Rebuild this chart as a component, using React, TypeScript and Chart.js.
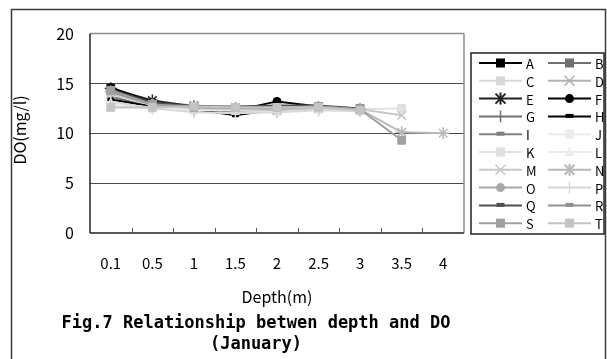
import React, { useEffect, useRef } from 'react';
import { Chart, registerables } from 'chart.js';

Chart.register(...registerables);

const depthLabels = ['0.1', '0.5', '1', '1.5', '2', '2.5', '3', '3.5', '4'];
const yTicks = [0, 5, 10, 15, 20];
const seriesNames = ['A', 'B', 'C', 'D', 'E', 'F', 'G', 'H', 'I', 'J', 'K', 'L', 'M', 'N', 'O', 'P', 'Q', 'R', 'S', 'T'];

const seriesA = [14.3, 12.9, 12.5, 12.4, 12.6, 12.6, 12.4];
const seriesB = [14.2, 13.0, 12.7, 12.6, 12.7, 12.7, 12.5];
const seriesC = [14.0, 12.8, 12.5, 12.5, 12.4, 12.5, 12.3];
const seriesD = [14.4, 13.2, 12.8, 12.6, 12.5, 12.6, 12.4];
const seriesE = [14.5, 13.3, 12.7, 12.5, 12.4, 12.6, 12.4];
const seriesF = [14.6, 13.1, 12.6, 12.3, 13.2, 12.7, 12.4];
const seriesG = [13.7, 12.6, 12.3, 12.2, 12.2, 12.5, 12.3];
const seriesH = [13.4, 12.7, 12.4, 11.8, 12.4, 12.6, 12.5];
const seriesI = [14.1, 12.9, 12.6, 12.4, 12.3, 12.5, 12.4];
const seriesJ = [12.8, 12.5, 12.3, 12.3, 12.2, 12.4, 12.3];
const seriesK = [12.7, 12.6, 12.4, 12.3, 12.3, 12.5, 12.4, 12.5];
const seriesL = [13.0, 12.6, 12.4, 12.3, 12.2, 12.4, 12.3];
const seriesM = [14.0, 12.8, 12.5, 12.4, 12.3, 12.5, 12.4, 11.8];
const seriesN = [14.2, 12.9, 12.6, 12.5, 12.4, 12.6, 12.4, 10.1, 10.0];
const seriesO = [14.3, 13.0, 12.7, 12.6, 12.5, 12.7, 12.5];
const seriesP = [13.2, 12.5, 12.1, 12.0, 12.1, 12.3, 12.2];
const seriesQ = [14.4, 13.1, 12.7, 12.7, 12.8, 12.8, 12.5];
const seriesR = [14.2, 12.9, 12.7, 12.6, 12.6, 12.7, 12.4];
const seriesS = [14.3, 12.9, 12.6, 12.6, 12.6, 12.7, 12.4, 9.3];
const seriesT = [12.6, 12.6, 12.7, 12.6, 12.6, 12.6, 12.3];

const seriesValues = [
  seriesA, seriesB, seriesC, seriesD, seriesE, seriesF, seriesG, seriesH, seriesI, seriesJ,
  seriesK, seriesL, seriesM, seriesN, seriesO, seriesP, seriesQ, seriesR, seriesS, seriesT,
];

const seriesColors = [
  '#000000', '#707070', '#d8d8d8', '#b0b0b0', '#202020', '#000000', '#707070', '#000000', '#808080', '#ececec',
  '#e0e0e0', '#ececec', '#c8c8c8', '#b8b8b8', '#a8a8a8', '#d8d8d8', '#505050', '#909090', '#a0a0a0', '#c4c4c4',
];
const seriesMarkers = [
  'rect', 'rect', 'rect', 'crossRot', 'star', 'circle', 'vline', 'dash', 'dash', 'rect',
  'rect', 'triangle', 'crossRot', 'star', 'circle', 'vline', 'dash', 'dash', 'rect', 'rect',
];

const AXIS_FONT = '"Noto Sans CJK JP", "Noto Sans", sans-serif';
const TITLE_FONT = '"DejaVu Sans Mono", monospace';

function markerProps(m: string, color: string) {
  switch (m) {
    case 'rect': return { pointStyle: 'rect', pointRadius: 5.5, pointBorderWidth: 1, pointBackgroundColor: color, pointBorderColor: color };
    case 'circle': return { pointStyle: 'circle', pointRadius: 4, pointBorderWidth: 1, pointBackgroundColor: color, pointBorderColor: color };
    case 'crossRot': return { pointStyle: 'crossRot', pointRadius: 6, pointBorderWidth: 1.5, pointBackgroundColor: color, pointBorderColor: color };
    case 'star': return { pointStyle: 'star', pointRadius: 6, pointBorderWidth: 1.5, pointBackgroundColor: color, pointBorderColor: color };
    case 'triangle': return { pointStyle: 'triangle', pointRadius: 5, pointBorderWidth: 1, pointBackgroundColor: color, pointBorderColor: color };
    case 'vline': return { pointStyle: 'line', pointRotation: 90, pointRadius: 6, pointBorderWidth: 1.5, pointBackgroundColor: color, pointBorderColor: color };
    default: return { pointStyle: 'line', pointRadius: 3.5, pointBorderWidth: 4, pointBackgroundColor: color, pointBorderColor: color };
  }
}

function drawMarker(ctx: CanvasRenderingContext2D, m: string, x: number, y: number, color: string) {
  ctx.save();
  ctx.fillStyle = color;
  ctx.strokeStyle = color;
  const line = (x1: number, y1: number, x2: number, y2: number) => {
    ctx.beginPath(); ctx.moveTo(x1, y1); ctx.lineTo(x2, y2); ctx.stroke();
  };
  if (m === 'rect') {
    ctx.fillRect(x - 4.5, y - 4.5, 9, 9);
  } else if (m === 'circle') {
    ctx.beginPath(); ctx.arc(x, y, 4.5, 0, Math.PI * 2); ctx.fill();
  } else if (m === 'crossRot') {
    ctx.lineWidth = 1.5;
    line(x - 5, y - 5, x + 5, y + 5); line(x - 5, y + 5, x + 5, y - 5);
  } else if (m === 'star') {
    ctx.lineWidth = 2;
    line(x - 5, y - 5, x + 5, y + 5); line(x - 5, y + 5, x + 5, y - 5); line(x, y - 6, x, y + 6);
  } else if (m === 'triangle') {
    ctx.beginPath(); ctx.moveTo(x, y - 5); ctx.lineTo(x + 5, y + 4); ctx.lineTo(x - 5, y + 4); ctx.closePath(); ctx.fill();
  } else if (m === 'vline') {
    ctx.lineWidth = 1.5;
    line(x, y - 6, x, y + 6);
  } else {
    ctx.lineWidth = 4;
    line(x - 4, y - 0.5, x + 4, y - 0.5);
  }
  ctx.restore();
}

const decorPlugin = {
  id: 'decor',
  afterDraw(chart: any) {
    const ctx: CanvasRenderingContext2D = chart.ctx;
    const ca = chart.chartArea;
    const xs = chart.scales.x;
    const line = (x1: number, y1: number, x2: number, y2: number) => {
      ctx.beginPath(); ctx.moveTo(x1, y1); ctx.lineTo(x2, y2); ctx.stroke();
    };
    ctx.save();
    // plot borders
    ctx.lineWidth = 1.5;
    ctx.strokeStyle = '#8c8c8c';
    line(ca.left, ca.top, ca.right, ca.top);
    line(ca.right, ca.top, ca.right, ca.bottom);
    ctx.strokeStyle = '#222';
    line(ca.left, ca.top, ca.left, ca.bottom);
    line(ca.left, ca.bottom, ca.right, ca.bottom);
    // inner tick marks between categories
    ctx.lineWidth = 1;
    ctx.strokeStyle = '#555';
    for (let i = 1; i < depthLabels.length; i++) {
      const x = Math.round((xs.getPixelForTick(i - 1) + xs.getPixelForTick(i)) / 2) + 0.5;
      line(x, ca.bottom, x, ca.bottom - 5);
    }
    // outer frame
    ctx.lineWidth = 1.5;
    ctx.strokeStyle = '#3a3a3a';
    ctx.beginPath();
    ctx.moveTo(3.5, chart.height + 2);
    ctx.lineTo(3.5, 1.5);
    ctx.lineTo(597.5, 1.5);
    ctx.lineTo(597.5, chart.height + 2);
    ctx.stroke();
    // axis titles
    ctx.fillStyle = '#000';
    ctx.textAlign = 'center';
    ctx.textBaseline = 'middle';
    ctx.font = `16px ${AXIS_FONT}`;
    ctx.fillText('Depth(m)', (ca.left + ca.right) / 2, 289);
    ctx.save();
    ctx.translate(12, 122);
    ctx.rotate(-Math.PI / 2);
    ctx.fillText('DO(mg/l)', 0, 0);
    ctx.restore();
    // figure title
    ctx.font = `bold 17px ${TITLE_FONT}`;
    ctx.fillText('Fig.7 Relationship betwen depth and DO', 248, 316);
    ctx.fillText('(January)', 248, 337);
    // legend
    const lx = 463, ly = 45, lw = 133, lh = 181;
    ctx.fillStyle = '#fff';
    ctx.fillRect(lx, ly, lw, lh);
    ctx.strokeStyle = '#222';
    ctx.lineWidth = 1.5;
    ctx.strokeRect(lx, ly, lw, lh);
    ctx.font = `13px ${AXIS_FONT}`;
    ctx.textAlign = 'left';
    seriesNames.forEach((name, i) => {
      const col = i % 2;
      const row = Math.floor(i / 2);
      const y = ly + 10 + row * 17.8;
      const x0 = col === 0 ? 471 : 540;
      const color = seriesColors[i];
      ctx.strokeStyle = color;
      ctx.lineWidth = 2;
      line(x0, y, x0 + 43, y);
      drawMarker(ctx, seriesMarkers[i], x0 + 21.5, y, color);
      ctx.fillStyle = '#000';
      ctx.fillText(name, x0 + 47, y + 1);
    });
    ctx.restore();
  },
};

export default function App() {
  const canvasRef = useRef<HTMLCanvasElement | null>(null);

  useEffect(() => {
    const canvas = canvasRef.current;
    if (!canvas) return;
    const datasets = seriesNames.map((name, i) => ({
      label: name,
      data: seriesValues[i],
      borderColor: seriesColors[i],
      backgroundColor: seriesColors[i],
      borderWidth: 2,
      tension: 0,
      spanGaps: false,
      order: seriesNames.length - 1 - i,
      ...markerProps(seriesMarkers[i], seriesColors[i]),
    }));
    const chart = new Chart(canvas, {
      type: 'line',
      data: { labels: depthLabels, datasets: datasets as any },
      options: {
        responsive: false,
        animation: false,
        devicePixelRatio: 1,
        layout: { padding: { left: 0, top: 21, right: 143, bottom: 0 } },
        plugins: { legend: { display: false }, tooltip: { enabled: false }, title: { display: false } },
        scales: {
          x: {
            type: 'category',
            offset: true,
            grid: { display: false, drawTicks: false },
            border: { display: false },
            ticks: { color: '#000', font: { family: AXIS_FONT, size: 15 }, padding: 21, maxRotation: 0, autoSkip: false },
            afterFit: (s: any) => { s.height = 126; },
          },
          y: {
            min: 0,
            max: 20,
            afterBuildTicks: (s: any) => { s.ticks = yTicks.map((v) => ({ value: v })); },
            grid: {
              drawTicks: false,
              lineWidth: 1,
              color: (c: any) => (c.tick && c.tick.value > 0 && c.tick.value < 20 ? '#4a4a4a' : 'rgba(0,0,0,0)'),
            },
            border: { display: false },
            ticks: { color: '#000', font: { family: AXIS_FONT, size: 16 }, padding: 16 },
            afterFit: (s: any) => { s.width = 82; },
          },
        },
      },
      plugins: [decorPlugin],
    });
    return () => chart.destroy();
  }, []);

  return (
    <div style={{ position: 'fixed', left: 8, top: 8, width: 599, height: 351 }}>
      <canvas ref={canvasRef} width={599} height={351} style={{ display: 'block' }} />
    </div>
  );
}
